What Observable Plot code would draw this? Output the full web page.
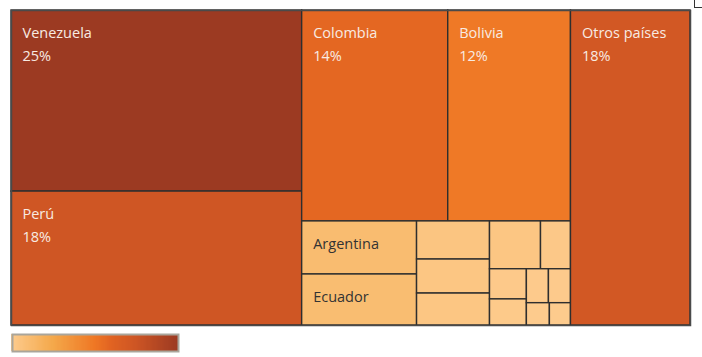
<!DOCTYPE html>
<html><head><meta charset="utf-8">
<script src="https://cdn.jsdelivr.net/npm/d3@7"></script>
<script src="https://cdn.jsdelivr.net/npm/@observablehq/plot@0.6"></script>
<style>
body{margin:0;background:#fff;font-family:"Open Sans",sans-serif;}
#chart{position:relative;width:702px;height:357px;}
#chart svg{display:block;}
.corner{position:absolute;left:694px;top:0;width:8px;height:7px;border-left:1px solid #333;border-bottom:1px solid #333;}
</style>
</head><body><div id="chart"><div class="corner"></div></div>
<script>
// Countries and their shares (%)
const countries = ["Venezuela","Perú","Colombia","Bolivia","Argentina","Ecuador",
  "País 1","País 2","País 3","País 4","País 5","País 6","País 7","País 8","País 9","País 10","País 11",
  "Otros países"];
const shares = [24.6, 18.2, 14.4, 12.1, 2.85, 2.74,
  1.30, 1.16, 1.09, 1.14, 0.67, 0.52, 0.45, 0.35, 0.35, 0.24, 0.22,
  17.6];
// Which cells show name + percent, and which show the name only
const withPercent = ["Venezuela","Perú","Colombia","Bolivia","Otros países"];
const nameOnly = ["Argentina","Ecuador"];
// Treemap grouping (h = split left/right, v = split top/bottom)
const groups = {dir:"h", children:[
  {dir:"v", children:["Venezuela","Perú"]},
  {dir:"v", children:[
    {dir:"h", children:["Colombia","Bolivia"]},
    {dir:"h", children:[
      {dir:"v", children:["Argentina","Ecuador"]},
      {dir:"v", children:["País 1","País 2","País 3"]},
      {dir:"v", children:[
        {dir:"h", children:["País 4","País 5"]},
        {dir:"h", children:[
          {dir:"v", children:["País 6","País 7"]},
          {dir:"v", children:[
            {dir:"h", children:["País 8","País 9"]},
            {dir:"h", children:["País 10","País 11"]}
          ]}
        ]}
      ]}
    ]}
  ]},
  "Otros países"
]};
const rampStops = [0, 0.25, 0.5, 0.6, 0.75, 1];
const rampColors = ["#fdcb8d","#f4a84a","#ef7724","#e16322","#cd5524","#9c3a22"];

const valueOf = new Map(countries.map((c,i)=>[c, shares[i]]));
function build(n){
  if (typeof n === "string") return {name:n, value:valueOf.get(n)};
  return {dir:n.dir, children:n.children.map(build)};
}
const root = d3.hierarchy(build(groups), d=>d.children).sum(d=>d.children?0:d.value);
d3.treemap()
  .tile((node,x0,y0,x1,y1)=> (node.data.dir==="h"?d3.treemapDice:d3.treemapSlice)(node,x0,y0,x1,y1))
  .size([1,1]).round(false)(root);
const cells = root.leaves().map(l=>({name:l.data.name, value:l.data.value, x0:l.x0, x1:l.x1, y0:l.y0, y1:l.y1}));
const labels = cells.filter(d=>withPercent.includes(d.name)||nameOnly.includes(d.name))
  .map(d=>({...d, text: withPercent.includes(d.name) ? `${d.name}\n${Math.round(d.value)}%` : d.name}));

const vmin = d3.min(shares), vmax = d3.max(shares);
const colorOpts = {type:"linear", domain:rampStops.map(t=>vmin+(vmax-vmin)*t), range:rampColors, interpolate:"rgb"};

const chart = Plot.plot({
  width:702, height:330, marginLeft:11, marginRight:12, marginTop:10, marginBottom:5,
  x:{domain:[0,1], axis:null},
  y:{domain:[0,1], axis:null, reverse:true},
  color:colorOpts,
  style:{fontFamily:"Open Sans", background:"transparent"},
  marks:[
    Plot.rect(cells,{x1:"x0",x2:"x1",y1:"y0",y2:"y1",fill:"value",stroke:"#2e2e2e",strokeWidth:1.4}),
    Plot.frame({stroke:"#4a4a4a", strokeWidth:1.5}),
    Plot.text(labels,{x:"x0",y:"y0",text:"text",dx:11,dy:12,textAnchor:"start",lineAnchor:"top",
      lineHeight:1.54, fontSize:14.5, fill:d=>d.value>5?"#f8ebe2":"#333333"})
  ]
});
document.getElementById("chart").appendChild(chart);

const ramp = d3.range(140).map(i=>({a:vmin+(vmax-vmin)*i/140, b:vmin+(vmax-vmin)*(i+1)/140}));
const legend = Plot.plot({
  width:702, height:27, marginLeft:12, marginRight:524, marginTop:4, marginBottom:6,
  x:{domain:[vmin,vmax], axis:null},
  y:{domain:[0,1], axis:null},
  color:colorOpts,
  marks:[
    Plot.rect(ramp,{x1:"a",x2:"b",y1:0,y2:1,fill:"a",inset:0,insetLeft:-1,shapeRendering:"crispEdges"}),
    Plot.frame({stroke:"#a9a59b", strokeWidth:2})
  ]
});
document.getElementById("chart").appendChild(legend);
</script>
</body></html>
